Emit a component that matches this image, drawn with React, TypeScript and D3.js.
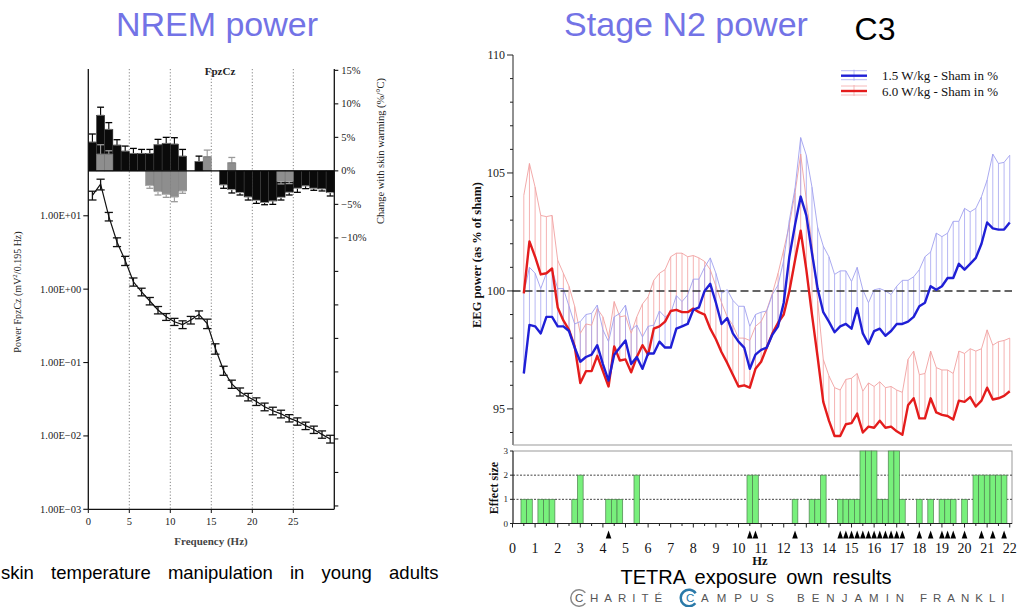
import React from "react";
import * as d3 from "d3";

const W = 1018;
const H = 607;
const SERIF = "'Liberation Serif', 'Times New Roman', serif";
const SANS = "'Liberation Sans', Arial, sans-serif";

// ---------------- Left panel: NREM power, FpzCz ----------------
const nremBinStart = d3.range(0, 30); // 1-Hz bins
const nremFreq = nremBinStart.map((d) => d + 0.5);
const powerMean = [19, 27, 9.8, 4.4, 2.45, 1.26, 0.92, 0.69, 0.52, 0.42, 0.36, 0.33, 0.38, 0.45, 0.34, 0.155, 0.078, 0.051, 0.04, 0.034, 0.0295, 0.025, 0.022, 0.02, 0.0175, 0.0158, 0.0138, 0.0122, 0.0105, 0.0091];
const powerErr = [2.6, 4.5, 1.3, 0.6, 0.35, 0.16, 0.11, 0.08, 0.06, 0.045, 0.04, 0.04, 0.045, 0.055, 0.05, 0.025, 0.011, 0.0065, 0.005, 0.004, 0.0035, 0.003, 0.0026, 0.0024, 0.002, 0.0018, 0.0016, 0.0014, 0.0012, 0.0011];
const warmBlack = [4.3, 8.3, 6.2, 3.85, 2.95, 2.6, 2.6, 2.6, 3.9, 4.1, 4.0, 2.2, null, 1.4, null, null, -2.1, -2.8, -3.25, -3.9, -4.4, -4.75, -4.5, -3.95, -3.2, -2.6, -2.25, -2.6, -2.7, -3.25];
const warmBlackErr = [1.2, 1.2, 1.0, 0.8, 0.75, 0.75, 0.6, 0.6, 0.8, 0.9, 0.95, 1.0, null, 0.8, null, null, 0.5, 0.5, 0.35, 0.45, 0.45, 0.3, 0.5, 0.4, 0.4, 0.6, 0.4, 0.3, 0.3, 0.5];
const warmGray = [null, 2.5, 2.5, null, null, null, null, -2.2, -3.1, -3.5, -3.9, -3.0, null, null, 2.1, null, null, 1.2, null, null, null, null, null, -1.6, -1.6, null, null, null, null, null];
const warmGrayErr = [null, 1.4, 0.5, null, null, null, null, 0.4, 0.5, 0.45, 0.7, 0.35, null, null, 1.0, null, null, 0.8, null, null, null, null, null, 0.35, 0.3, null, null, null, null, null];
const nremDecades = [1e-3, 1e-2, 1e-1, 1, 10];
const nremDecadeLabels = ["1.00E\u221203", "1.00E\u221202", "1.00E\u221201", "1.00E+00", "1.00E+01"];
const nremFreqTicks = [0, 5, 10, 15, 20, 25];
const nremGridLines = [5, 10, 15, 20, 25];
const pctTicks = d3.range(-50, 16, 5);
const pctLabelled = [15, 10, 5, 0, -5, -10];

// ---------------- Right panel: Stage N2 power, C3 ----------------
const n2Freq = d3.range(0.5, 22.001, 0.25);
const blueMean = [
  96.5, 98.56,
  98.5, 98.2, 98.9, 98.9,
  98.5, 98.5, 98.3, 97.6,
  97.0, 97.2, 97.3, 97.7,
  96.9, 96.2, 97.3, 97.6,
  97.9, 96.9, 97.2, 96.7,
  97.35, 97.35, 97.85, 97.6,
  97.6, 98.4, 98.5, 98.6,
  99.2, 99.3, 100.0, 100.3,
  99.5, 98.6, 98.85, 98.2,
  97.85, 97.6, 96.7, 97.3,
  97.5, 97.6, 98.15, 98.5,
  99.5, 101.45, 102.8, 104.0,
  103.2, 101.6, 100.1, 99.1,
  98.7, 98.25, 98.5, 98.6,
  98.4, 99.27, 98.2, 97.75,
  98.3, 98.4, 98.1, 98.3,
  98.6, 98.6, 98.7, 98.9,
  99.35, 99.5, 100.2, 100.05,
  100.2, 100.55, 100.55, 101.15,
  100.9, 101.15, 101.4, 102.0,
  102.9, 102.65, 102.6, 102.6,
  102.9,
];
const blueUpper = [
  99.9, 101.0,
  100.75, 100.1, 100.75, 100.9,
  100.1, 100.1, 99.35, 98.6,
  98.7, 99.0, 99.05, 99.4,
  98.35, 97.85, 98.9, 99.05,
  99.4, 98.35, 98.55, 98.05,
  98.5, 98.55, 99.15, 98.9,
  99.05, 99.8, 99.55, 99.83,
  100.5, 100.5, 101.0, 101.4,
  100.75, 99.9, 100.05, 99.6,
  99.35, 99.35, 98.5, 99.0,
  99.1, 99.15, 99.85, 100.25,
  101.3, 103.0, 104.35, 106.5,
  105.75, 104.4, 102.7, 101.9,
  101.45, 100.7, 100.85, 100.85,
  100.4, 101.0, 100.05, 99.5,
  100.05, 100.1, 100.0, 99.85,
  100.2, 100.45, 100.45, 100.6,
  100.9, 101.45, 101.65, 102.45,
  102.3, 102.45, 102.95, 102.95,
  103.5, 103.35, 103.5, 104.0,
  104.7, 105.8, 105.4, 105.45,
  105.75,
];
const redMean = [
  99.9, 102.1,
  101.45, 100.7, 100.75, 100.95,
  99.3, 98.75, 98.35, 97.65,
  96.1, 96.6, 96.6, 97.25,
  96.6, 95.95, 97.65, 97.05,
  97.1, 96.55, 97.2, 97.7,
  97.3, 98.4, 98.5, 98.7,
  99.15, 99.2, 99.1, 99.1,
  99.25, 99.1, 99.0, 98.4,
  97.95, 97.4, 96.95, 96.45,
  95.95, 96.0, 95.9, 96.7,
  97.0, 97.6, 98.2, 98.65,
  99.0, 100.0, 101.3, 102.55,
  100.9, 99.0, 97.2, 95.3,
  94.5, 93.85, 93.85, 94.35,
  94.4, 94.8, 94.0, 94.25,
  94.2, 94.5, 94.2, 94.25,
  94.05, 93.9, 95.15, 95.45,
  94.6, 94.6, 95.45, 94.85,
  94.75, 94.7, 94.55, 95.35,
  95.3, 95.5, 95.1, 95.35,
  95.9, 95.4, 95.45, 95.55,
  95.75,
];
const redUpper = [
  104.05, 105.4,
  104.4, 103.2, 103.15, 103.2,
  101.3, 100.75, 100.2, 99.35,
  98.2, 98.6, 98.55, 99.25,
  98.9, 98.05, 99.55, 98.9,
  98.95, 98.2, 98.9, 99.45,
  99.75, 100.45, 100.75, 100.9,
  101.45, 101.6, 101.6, 101.45,
  101.5, 101.4, 101.25, 100.9,
  100.2, 99.5, 98.9, 98.55,
  98.0, 98.0, 97.9, 98.5,
  98.7, 99.2, 99.9, 100.75,
  101.75, 102.8, 104.15, 105.8,
  103.85, 102.0, 99.6, 97.1,
  96.4, 95.9, 95.8, 96.25,
  96.3, 96.5, 95.75, 96.1,
  95.95, 96.15, 95.9, 95.95,
  95.8, 95.7, 97.1, 97.45,
  96.45, 96.5, 97.45, 96.75,
  96.65, 96.65, 96.5, 97.45,
  97.35, 97.55, 97.45, 97.55,
  98.35, 97.7, 97.85, 97.9,
  98.0,
];
const effectSize = [
  1, 1,
  0, 1, 1, 1,
  0, 0, 0, 1,
  2, 0, 0, 0,
  0, 1, 1, 1,
  0, 0, 2, 0,
  0, 0, 0, 0,
  0, 0, 0, 0,
  0, 0, 0, 0,
  0, 0, 0, 0,
  0, 0, 2, 2,
  0, 0, 0, 0,
  0, 0, 1, 0,
  0, 1, 1, 2,
  0, 0, 1, 1,
  1, 1, 3, 3,
  3, 1, 1, 3,
  3, 1, 0, 0,
  1, 0, 1, 0,
  1, 1, 1, 0,
  1, 0, 2, 2,
  2, 2, 2, 2,
  0,
];
const significantFreq = [4.25, 10.5, 10.75, 12.5, 14.5, 14.75, 15, 15.25, 15.5, 15.75, 16, 16.25, 16.5, 16.75, 17, 17.25, 18, 18.5, 19, 19.25, 19.5, 20, 20.75, 21.25, 21.75];
const n2Ticks = d3.range(94, 111, 1);
const n2Labelled = [95, 100, 105, 110];
const hzTicks = d3.range(0, 23, 1);
const hzMinor = d3.range(0.5, 22, 1);
const effectTicks = [0, 1, 2, 3];
const legendItems = [
  { label: "1.5 W/kg - Sham in %", color: "#1f1fd6", light: "#a8a8f0" },
  { label: "6.0 W/kg - Sham in %", color: "#e41c1c", light: "#f4a8a8" },
];

export default function App() {
  // left scales
  const xL = d3.scaleLinear().domain([0, 30]).range([88.3, 334.3]);
  const yLog = d3.scaleLog().domain([1e-3, 1e3]).range([509.3, 69]);
  const yPct = d3.scaleLinear().domain([-50.5, 15.2]).range([509.3, 69]);
  // right scales
  const xR = d3.scaleLinear().domain([0, 22.1]).range([512.5, 1012]);
  const yR = d3.scaleLinear().domain([93.47, 110]).range([445, 55]);
  const yE = d3.scaleLinear().domain([0, 3]).range([523.5, 451]);

  const powerLine = d3
    .line<number>()
    .x((_, i) => xL(nremFreq[i]))
    .y((d) => yLog(d))(powerMean) as string;

  const n2Line = (vals: number[]) =>
    d3
      .line<number>()
      .x((_, i) => xR(n2Freq[i]))
      .y((d) => yR(d))(vals) as string;

  const barEls = (vals: (number | null)[], errs: (number | null)[], fill: string, errColor: string, key: string) =>
    nremBinStart.map((b, i) => {
      const v = vals[i];
      if (v == null) return null;
      const e = errs[i] ?? 0;
      const x0 = xL(b);
      const x1 = xL(b + 1);
      const xm = (x0 + x1) / 2;
      const y0 = yPct(0);
      const yv = yPct(v);
      const ye = yPct(v >= 0 ? v + e : v - e);
      const cw = (x1 - x0) * 0.42;
      return (
        <g key={key + i}>
          <rect x={x0} width={x1 - x0} y={Math.min(y0, yv)} height={Math.abs(yv - y0)} fill={fill} stroke={fill === "#0a0a0a" ? "#3a3a3a" : "#7a7a7a"} strokeWidth={0.5} />
          <line x1={xm} x2={xm} y1={yv} y2={ye} stroke={errColor} strokeWidth={1.1} />
          <line x1={xm - cw} x2={xm + cw} y1={ye} y2={ye} stroke={errColor} strokeWidth={1.3} />
          <line x1={xm - cw} x2={xm + cw} y1={yv} y2={yv} stroke={v >= 0 ? "#777" : "#bbb"} strokeWidth={0.8} />
        </g>
      );
    });

  const arcGen = d3.arc();
  const grayC = arcGen({ innerRadius: 7.5, outerRadius: 9, startAngle: Math.PI * 0.72, endAngle: Math.PI * 2.28 }) as string;
  const blueC = arcGen({ innerRadius: 7, outerRadius: 9.5, startAngle: Math.PI * 0.72, endAngle: Math.PI * 2.3 }) as string;

  return (
    <svg
      width={W}
      height={H}
      viewBox={`0 0 ${W} ${H}`}
      style={{ position: "absolute", left: 0, top: 0, background: "#fff" }}
    >
      {/* Titles */}
      <text x={217} y={36} textAnchor="middle" fontFamily={SANS} fontSize={34} fill="#7373e6">NREM power</text>
      <text x={686} y={36} textAnchor="middle" fontFamily={SANS} fontSize={34} fill="#7373e6">Stage N2 power</text>
      <text x={875} y={40} textAnchor="middle" fontFamily={SANS} fontSize={32} fill="#000">C3</text>

      {/* ================= LEFT PANEL ================= */}
      <g fontFamily={SERIF} fill="#222">
        {nremGridLines.map((f) => (
          <line key={"g" + f} x1={xL(f)} x2={xL(f)} y1={69} y2={509.3} stroke="#666" strokeWidth={0.8} strokeDasharray="1.2,2" />
        ))}
        {barEls(warmBlack, warmBlackErr, "#0a0a0a", "#000", "b")}
        {barEls(warmGray, warmGrayErr, "#8e8e8e", "#9a9a9a", "gr")}
        <line x1={xL(0)} x2={xL(30)} y1={yPct(0)} y2={yPct(0)} stroke="#000" strokeWidth={1.2} />

        {/* power spectrum */}
        <path d={powerLine} fill="none" stroke="#111" strokeWidth={1.2} />
        {nremFreq.map((f, i) => {
          const lo = yLog(powerMean[i] - powerErr[i]);
          const hi = yLog(powerMean[i] + powerErr[i]);
          const x = xL(f);
          const cw = (xL(1) - xL(0)) * 0.5;
          return (
            <g key={"pe" + i} stroke="#111" strokeWidth={1.3}>
              <line x1={x} x2={x} y1={lo} y2={hi} />
              <line x1={x - cw} x2={x + cw} y1={lo} y2={lo} />
              <line x1={x - cw} x2={x + cw} y1={hi} y2={hi} />
            </g>
          );
        })}

        {/* axes */}
        <line x1={xL(0)} x2={xL(0)} y1={69} y2={509.3} stroke="#111" strokeWidth={1.3} />
        <line x1={xL(30)} x2={xL(30)} y1={69} y2={509.3} stroke="#111" strokeWidth={1.3} />
        <line x1={xL(0)} x2={xL(30)} y1={509.3} y2={509.3} stroke="#111" strokeWidth={1.3} />
        {nremDecades.map((d, i) => (
          <g key={"dl" + i}>
            <line x1={xL(0) - 5} x2={xL(0)} y1={yLog(d)} y2={yLog(d)} stroke="#111" strokeWidth={1.1} />
            <text x={xL(0) - 7} y={yLog(d) + 3.5} textAnchor="end" fontSize={10.5}>{nremDecadeLabels[i]}</text>
          </g>
        ))}
        {pctTicks.map((p) => (
          <line key={"pt" + p} x1={xL(30)} x2={xL(30) + 4} y1={yPct(p)} y2={yPct(p)} stroke="#111" strokeWidth={1.1} />
        ))}
        {pctLabelled.map((p) => (
          <text key={"pl" + p} x={xL(30) + 7} y={yPct(p) + 3.5} fontSize={10.5}>
            {(p < 0 ? "\u2212" + Math.abs(p) : String(p)) + "%"}
          </text>
        ))}
        {nremFreqTicks.map((f) => (
          <g key={"ft" + f}>
            <line x1={xL(f)} x2={xL(f)} y1={509.3} y2={513} stroke="#111" strokeWidth={1} />
            <text x={xL(f)} y={525} textAnchor="middle" fontSize={10.5}>{f}</text>
          </g>
        ))}
        <text x={211} y={545} textAnchor="middle" fontSize={11} fontWeight="bold" fill="#444">Frequency (Hz)</text>
        <text x={220} y={75} textAnchor="middle" fontSize={11} fontWeight="bold">FpzCz</text>
        <text transform="translate(21,292) rotate(-90)" textAnchor="middle" fontSize={10}>
          Power FpzCz (mV<tspan dy={-4} fontSize={7}>2</tspan><tspan dy={4}>/0.195 Hz)</tspan>
        </text>
        <text transform="translate(384,151) rotate(-90)" textAnchor="middle" fontSize={10.5}>
          Change with skin warming (%/°C)
        </text>
      </g>
      <text x={1} y={579} fontFamily={SANS} fontSize={18.5} fill="#000" wordSpacing={12}>skin temperature manipulation in young adults</text>

      {/* ================= RIGHT PANEL ================= */}
      <g fontFamily={SERIF}>
        {/* hatching */}
        {n2Freq.map((f, i) => (
          <line key={"rh" + i} x1={xR(f)} x2={xR(f)} y1={yR(redMean[i])} y2={yR(redUpper[i])} stroke="#f2a0a0" strokeWidth={0.8} />
        ))}
        {n2Freq.map((f, i) => (
          <line key={"bh" + i} x1={xR(f)} x2={xR(f)} y1={yR(blueMean[i])} y2={yR(blueUpper[i])} stroke="#a4a4f0" strokeWidth={0.8} />
        ))}
        <path d={n2Line(redUpper)} fill="none" stroke="#f0a0a0" strokeWidth={0.9} />
        <path d={n2Line(blueUpper)} fill="none" stroke="#a0a0ee" strokeWidth={0.9} />
        <line x1={xR(0)} x2={1012} y1={yR(100)} y2={yR(100)} stroke="#333" strokeWidth={1.6} strokeDasharray="8,4" />
        <path d={n2Line(redMean)} fill="none" stroke="#e41c1c" strokeWidth={2.4} strokeLinejoin="round" />
        <path d={n2Line(blueMean)} fill="none" stroke="#1f1fd6" strokeWidth={2.4} strokeLinejoin="round" />

        {/* main axis */}
        <line x1={513} x2={513} y1={55} y2={445} stroke="#222" strokeWidth={1} />
        <line x1={513} x2={1012} y1={445} y2={445} stroke="#999" strokeWidth={1} />
        {n2Ticks.map((t) => (
          <line key={"nt" + t} x1={n2Labelled.includes(t) ? 507 : 510} x2={513} y1={yR(t)} y2={yR(t)} stroke="#222" strokeWidth={1} />
        ))}
        {n2Labelled.map((t) => (
          <text key={"nl" + t} x={505} y={yR(t) + 4} textAnchor="end" fontSize={12} fill="#222">{t}</text>
        ))}
        <text transform="translate(481,255) rotate(-90)" textAnchor="middle" fontSize={12.5} fontWeight="bold" fill="#111">
          EEG power (as % of sham)
        </text>

        {/* legend */}
        {legendItems.map((it, i) => {
          const y = 75.7 + i * 15.3;
          return (
            <g key={"lg" + i}>
              <line x1={841} x2={867} y1={y - 5} y2={y - 5} stroke={it.light} strokeWidth={0.8} />
              <line x1={841} x2={867} y1={y + 4} y2={y + 4} stroke={it.light} strokeWidth={0.8} />
              <line x1={854} x2={854} y1={y - 6} y2={y + 5} stroke={it.light} strokeWidth={0.8} />
              <line x1={841} x2={867} y1={y} y2={y} stroke={it.color} strokeWidth={2.4} />
              <text x={882} y={y + 4.5} fontSize={13} fill="#111">{it.label}</text>
            </g>
          );
        })}

        {/* effect-size panel */}
        <rect x={513} y={451} width={1012 - 513} height={523.5 - 451} fill="none" stroke="#999" strokeWidth={1} />
        {[1, 2].map((v) => (
          <line key={"ed" + v} x1={513} x2={1012} y1={yE(v)} y2={yE(v)} stroke="#444" strokeWidth={1} strokeDasharray="2,1.5" />
        ))}
        {n2Freq.map((f, i) =>
          effectSize[i] > 0 ? (
            <rect key={"es" + i} x={xR(f - 0.125)} width={xR(f + 0.125) - xR(f - 0.125)} y={yE(effectSize[i])} height={yE(0) - yE(effectSize[i])} fill="#78f07c" stroke="#4f7f4f" strokeWidth={0.7} />
          ) : null
        )}
        <line x1={513} x2={513} y1={451} y2={523.5} stroke="#222" strokeWidth={1} />
        <line x1={513} x2={1012} y1={523.5} y2={523.5} stroke="#222" strokeWidth={1} />
        {effectTicks.map((t) => (
          <g key={"et" + t}>
            <line x1={510} x2={513} y1={yE(t)} y2={yE(t)} stroke="#222" strokeWidth={1} />
            <text x={508} y={yE(t) + 3} textAnchor="end" fontSize={9} fill="#222">{t}</text>
          </g>
        ))}
        <text transform="translate(498,488) rotate(-90)" textAnchor="middle" fontSize={12} fontWeight="bold" fill="#111">Effect size</text>
        {hzTicks.map((t) => (
          <g key={"hz" + t}>
            <line x1={xR(t)} x2={xR(t)} y1={523.5} y2={527.5} stroke="#222" strokeWidth={1} />
            <text x={xR(t)} y={553} textAnchor="middle" fontSize={14} fill="#111">{t}</text>
          </g>
        ))}
        {hzMinor.map((t) => (
          <line key={"hm" + t} x1={xR(t)} x2={xR(t)} y1={523.5} y2={526} stroke="#222" strokeWidth={1} />
        ))}
        {significantFreq.map((f, i) => {
          const x = xR(f);
          return <path key={"sg" + i} d={`M${x},${530.5}L${x + 2.8},${538.5}L${x - 2.8},${538.5}Z`} fill="#000" />;
        })}
        <text x={760} y={565} textAnchor="middle" fontSize={12.5} fontWeight="bold" fill="#111">Hz</text>
      </g>
      <text x={756} y={584} textAnchor="middle" fontFamily={SANS} fontSize={20} fill="#000" wordSpacing={4}>TETRA exposure own results</text>

      {/* logo */}
      <g fontFamily={SANS} fontSize={11.5} fill="#555">
        <path d={grayC} transform="translate(579,598)" fill="#8a8a8a" />
        <text x={575} y={602} letterSpacing={6}>C</text>
        <text x={590} y={602} letterSpacing={6}>HARITÉ</text>
        <path d={blueC} transform="translate(689,598)" fill="#2a79a8" />
        <text x={686} y={602} letterSpacing={8} fill="#2a79a8">C</text>
        <text x={701} y={602} letterSpacing={8}>AMPUS</text>
        <text x={797} y={602} letterSpacing={7}>BENJAMIN</text>
        <text x={920} y={602} letterSpacing={6}>FRANKLI</text>
      </g>
    </svg>
  );
}
